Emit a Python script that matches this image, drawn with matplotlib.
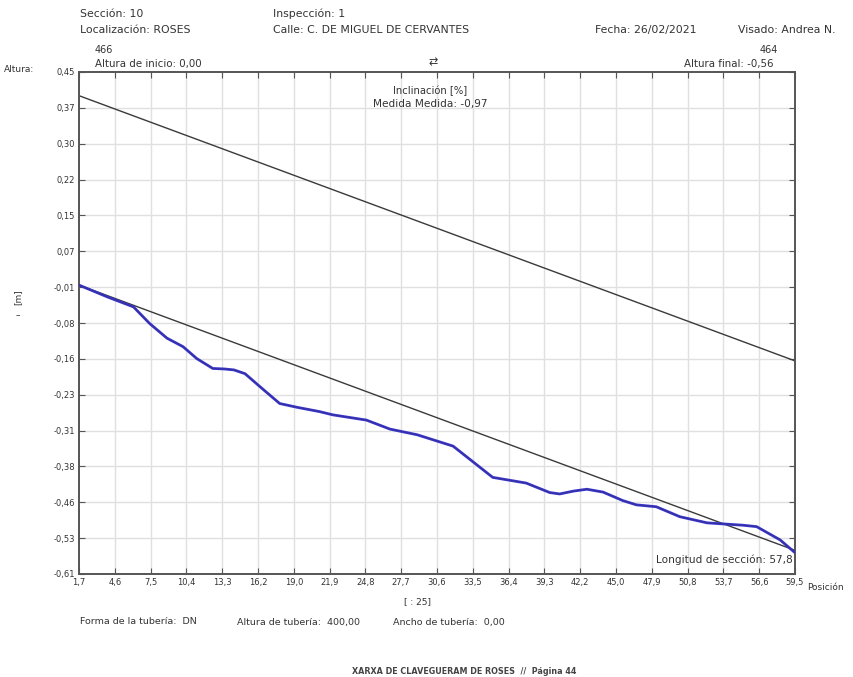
import numpy as np
import matplotlib
matplotlib.use("Agg")
import matplotlib.pyplot as plt

# ---- data ----
x_tick_labels = ["1,7", "4,6", "7,5", "10,4", "13,3", "16,2", "19,0", "21,9", "24,8", "27,7",
                 "30,6", "33,5", "36,4", "39,3", "42,2", "45,0", "47,9", "50,8", "53,7", "56,6", "59,5"]
y_tick_labels = ["0,45", "0,37", "0,30", "0,22", "0,15", "0,07", "-0,01", "-0,08", "-0,16",
                 "-0,23", "-0,31", "-0,38", "-0,46", "-0,53", "-0,61"]
x_start, x_end = 1.7, 59.5
y_min, y_max = -0.61, 0.45

# nominal invert line and crown line (start/end heights)
invert_pos = [1.7, 59.5]
invert_h = [0.00, -0.56]
crown_h = [0.40, -0.16]

# measured profile
prof_x = [1.7, 4.0, 6.1, 7.4, 8.8, 10.1, 11.2, 12.5, 13.4, 14.2, 15.1, 16.6, 17.9, 19.3, 21.1,
          22.2, 24.9, 26.8, 29.0, 31.9, 33.5, 35.1, 37.8, 39.7, 40.5, 41.6, 42.7, 44.0, 45.6,
          46.7, 48.3, 50.2, 52.4, 55.3, 56.4, 58.3, 59.5]
prof_y = [0.00, -0.025, -0.046, -0.081, -0.112, -0.130, -0.155, -0.176, -0.177, -0.179, -0.187,
          -0.221, -0.250, -0.258, -0.267, -0.274, -0.285, -0.304, -0.316, -0.340, -0.373,
          -0.406, -0.418, -0.438, -0.441, -0.435, -0.431, -0.437, -0.455, -0.464, -0.468, -0.489,
          -0.502, -0.507, -0.510, -0.538, -0.565]

W, H = 854, 677
fig = plt.figure(figsize=(W / 100, H / 100), dpi=100)
plt.rcParams['font.family'] = ['DejaVu Sans']

L, R, T, B = 79, 795, 72, 574
ax = fig.add_axes([L / W, 1 - B / H, (R - L) / W, (B - T) / H])

xt = np.linspace(x_start, x_end, len(x_tick_labels))
yt = np.linspace(y_max, y_min, len(y_tick_labels))

for v in xt[1:-1]:
    ax.axvline(v, color="#e0e0e0", lw=1.0, zorder=0)
for v in yt[1:-1]:
    ax.axhline(v, color="#e0e0e0", lw=1.0, zorder=0)

ax.plot(invert_pos, crown_h, color="#3a3a3a", lw=1.0, zorder=2)
ax.plot(invert_pos, invert_h, color="#3a3a3a", lw=1.0, zorder=2)
ax.plot(prof_x, prof_y, color="#3b35c8", lw=2.0, zorder=3, solid_capstyle="round",
        solid_joinstyle="round")
ax.plot(prof_x, prof_y, color="#2a2a70", lw=0.6, zorder=4, alpha=0.5)

ax.set_xlim(x_start, x_end)
ax.set_ylim(y_min, y_max)
ax.set_xticks(xt)
ax.set_xticklabels(x_tick_labels)
ax.set_yticks(yt)
ax.set_yticklabels(y_tick_labels)
ax.tick_params(direction="in", length=4, width=0.8, colors="#555555", labelcolor="#333333",
               labelsize=6, top=True, right=True, pad=3)
for s in ax.spines.values():
    s.set_color("#555555")
    s.set_linewidth(1.4)

ax.text(0.997, 0.018, "Longitud de sección: 57,8", transform=ax.transAxes, ha="right",
        va="bottom", fontsize=7.6, color="#333333")
ax.text(0.49, 0.963, "Inclinación [%]", transform=ax.transAxes, ha="center", va="center",
        fontsize=7.2, color="#333333")
ax.text(0.49, 0.937, "Medida Medida: -0,97", transform=ax.transAxes, ha="center", va="center",
        fontsize=7.6, color="#333333")

def ftext(x, y, s, **kw):
    kw.setdefault("fontsize", 7.8)
    kw.setdefault("color", "#333333")
    kw.setdefault("va", "center")
    fig.text(x / W, 1 - y / H, s, **kw)

ftext(80, 14, "Sección: 10")
ftext(80, 30, "Localización: ROSES")
ftext(273, 14, "Inspección: 1")
ftext(273, 30, "Calle: C. DE MIGUEL DE CERVANTES")
ftext(595, 30, "Fecha: 26/02/2021")
ftext(738, 30, "Visado: Andrea N.")
ftext(95, 50, "466", fontsize=7)
ftext(95, 64, "Altura de inicio: 0,00", fontsize=7.4)
ftext(778, 50, "464", ha="right", fontsize=7)
ftext(774, 64, "Altura final: -0,56", ha="right", fontsize=7.4)
ftext(433, 62, "⇄", ha="center", fontsize=8)
ftext(4, 70, "Altura:", fontsize=6.5)
ftext(18, 297, "[m]", ha="center", rotation=90, fontsize=6.5)
ftext(18, 316, "–", ha="center", fontsize=6.5)
ftext(807, 587, "Posición", fontsize=6.5)
ftext(418, 602, "[ : 25]", ha="center", fontsize=6.5)
ftext(80, 622, "Forma de la tubería:  DN", fontsize=6.8)
ftext(237, 622, "Altura de tubería:  400,00", fontsize=6.8)
ftext(393, 622, "Ancho de tubería:  0,00", fontsize=6.8)
ftext(464, 672, "XARXA DE CLAVEGUERAM DE ROSES  //  Página 44", ha="center", fontsize=5.8,
      fontweight="bold", color="#444444")

fig.savefig("out.png", dpi=100, facecolor="white")
